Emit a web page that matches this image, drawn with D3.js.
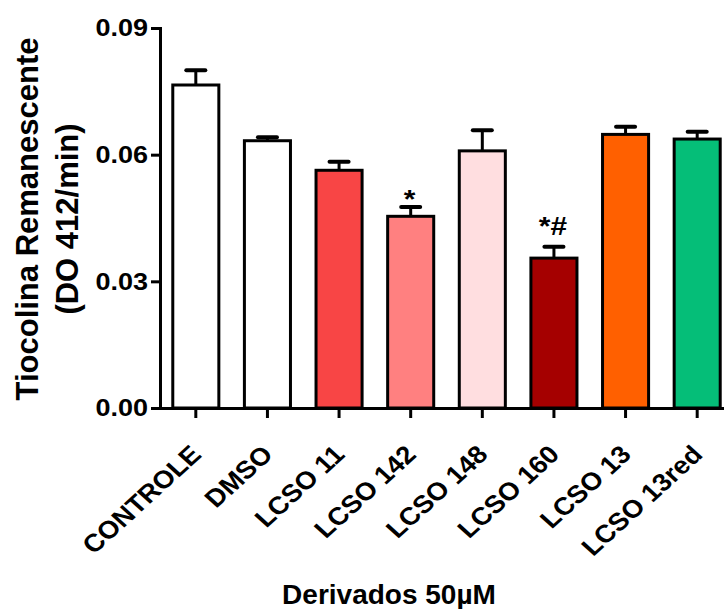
<!DOCTYPE html>
<html><head><meta charset="utf-8">
<script src="https://cdn.jsdelivr.net/npm/d3@7"></script>
<style>
body{margin:0;background:#fff}
text{font-family:"Liberation Sans",Arial,sans-serif;font-weight:bold;fill:#000}
</style>
</head><body>
<svg id="chart" width="724" height="609"></svg>
<script>
const categories = ["CONTROLE","DMSO","LCSO 11","LCSO 142","LCSO 148","LCSO 160","LCSO 13","LCSO 13red"];
const means = [0.0765,0.0633,0.0563,0.0454,0.0609,0.0355,0.0648,0.0637];
const errors = [0.0035,0.0008,0.0020,0.0022,0.0049,0.0027,0.0018,0.0017];
const colors = ["#ffffff","#ffffff","#f84545","#ff8080","#ffdee0","#a50000","#ff6000","#05be78"];
const marks = ["","","","*","","*#","",""];
const markLevels = [null,null,null,0.0474,null,0.0409,null,null];
const yTicks = [0,0.03,0.06,0.09];
const yTitle = ["Tiocolina Remanescente","(DO 412/min)"];
const xTitle = "Derivados 50µM";

const svg = d3.select("#chart");
const SX = 1.15;
const pLeft = 160, pRight = 733, pTop = 28, pBottom = 408;

const x = d3.scaleBand().domain(categories).range([pLeft, pRight]).paddingInner(0.357).paddingOuter(0.1785);
const y = d3.scaleLinear().domain([0, 0.09]).range([pBottom, pTop]);

const data = categories.map((c,i)=>({c, m:means[i], e:errors[i], col:colors[i], mark:marks[i], ml:markLevels[i]}));

// bars
svg.append("g").selectAll("rect").data(data).join("rect")
  .attr("x", d=>x(d.c)).attr("width", x.bandwidth())
  .attr("y", d=>y(d.m)).attr("height", d=>y(0)-y(d.m))
  .attr("fill", d=>d.col).attr("stroke","#000").attr("stroke-width",3);

// error bars
const eg = svg.append("g");
eg.selectAll("line.v").data(data).join("line").attr("class","v")
  .attr("x1", d=>x(d.c)+x.bandwidth()/2).attr("x2", d=>x(d.c)+x.bandwidth()/2)
  .attr("y1", d=>y(d.m)).attr("y2", d=>y(d.m+d.e))
  .attr("stroke","#000").attr("stroke-width",3);
eg.selectAll("line.cap").data(data).join("line").attr("class","cap")
  .attr("x1", d=>x(d.c)+x.bandwidth()/2 - x.bandwidth()/4 + 2).attr("x2", d=>x(d.c)+x.bandwidth()/2 + x.bandwidth()/4 - 2)
  .attr("y1", d=>y(d.m+d.e)).attr("y2", d=>y(d.m+d.e))
  .attr("stroke","#000").attr("stroke-width",4).attr("stroke-linecap","round");

// significance marks
svg.append("g").selectAll("text").data(data.filter(d=>d.mark)).join("text")
  .attr("text-anchor","middle").attr("font-size",26)
  .attr("transform", d=>`translate(${x(d.c)+x.bandwidth()/2 - 1},${y(d.ml)}) scale(${SX},1)`)
  .text(d=>d.mark);

// y axis
const ya = svg.append("g").attr("transform",`translate(${pLeft},0)`)
  .call(d3.axisLeft(y).tickValues(yTicks).tickSize(9).tickSizeOuter(0).tickFormat(()=>"" ));
ya.selectAll("path,line").attr("stroke","#000").attr("stroke-width",3);
ya.select(".domain").attr("stroke-linecap","square");
svg.append("g").selectAll("text").data(yTicks).join("text")
  .attr("text-anchor","end").attr("font-size",23.5).attr("dy","0.36em")
  .attr("transform", d=>`translate(148,${y(d)}) scale(${SX},1)`)
  .text(d3.format(".2f"));

// x axis
const xa = svg.append("g").attr("transform",`translate(0,${pBottom})`)
  .call(d3.axisBottom(x).tickSize(10).tickSizeOuter(0).tickFormat(()=>""));
xa.selectAll("path,line").attr("stroke","#000").attr("stroke-width",3);
svg.append("g").selectAll("text").data(categories).join("text")
  .attr("text-anchor","end").attr("font-size",25)
  .attr("transform", d=>`translate(${x(d)+x.bandwidth()/2+7},456) scale(1.1,1) rotate(-45)`)
  .text(d=>d);

// titles
svg.append("g").selectAll("text").data(yTitle).join("text")
  .attr("text-anchor","middle").attr("font-size",31)
  .attr("transform",(d,i)=>`translate(${i?78:38},219) rotate(-90)`)
  .text(d=>d);
svg.append("text").attr("text-anchor","middle").attr("font-size",28)
  .attr("transform",`translate(389,604)`).text(xTitle);
</script>
</body></html>
